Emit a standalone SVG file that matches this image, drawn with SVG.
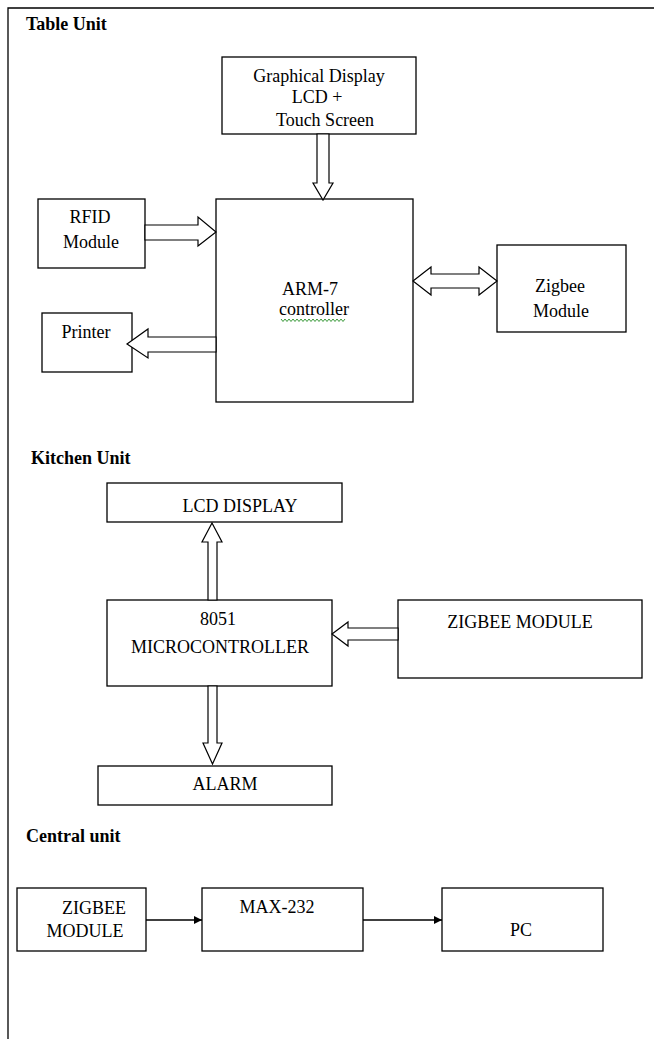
<svg xmlns="http://www.w3.org/2000/svg" width="654" height="1039" viewBox="0 0 654 1039">
<style>
.box{fill:#fff;stroke:#000;stroke-width:1.3}
.t{font-family:"Liberation Serif","Times New Roman",serif;font-size:18px;fill:#000;text-anchor:middle}
.h{font-family:"Liberation Serif","Times New Roman",serif;font-size:18px;font-weight:bold;fill:#000}
.ha{fill:#fff;stroke:#000;stroke-width:1.2;stroke-linejoin:miter}
.ln{stroke:#000;stroke-width:1.3;fill:none}
</style>
<defs>
<marker id="arr" viewBox="0 0 10 10" refX="10" refY="5" markerWidth="8" markerHeight="8" markerUnits="userSpaceOnUse" orient="auto">
<path d="M0,0 L10,5 L0,10 z" fill="#000"/>
</marker>
</defs>
<rect width="654" height="1039" fill="#fff"/>
<path d="M8,1039 V8 H654" class="ln" stroke-width="1.5"/>

<g id="titles">
<text class="h" x="26" y="30">Table Unit</text>
<text class="h" x="31" y="464">Kitchen Unit</text>
<text class="h" x="26" y="842">Central unit</text>
</g>

<g id="graphical-display">
<rect class="box" x="222" y="57" width="194" height="77"/>
<text class="t" x="319" y="82">Graphical Display</text>
<text class="t" x="317" y="103">LCD +</text>
<text class="t" x="325" y="126">Touch Screen</text>
</g>

<g id="arm7">
<rect class="box" x="216" y="199" width="197" height="203"/>
<text class="t" x="310" y="295">ARM-7</text>
<text class="t" x="314" y="315">controller</text>
<path d="M281,319 l2,2.5 l2,-2.5 l2,2.5 l2,-2.5 l2,2.5 l2,-2.5 l2,2.5 l2,-2.5 l2,2.5 l2,-2.5 l2,2.5 l2,-2.5 l2,2.5 l2,-2.5 l2,2.5 l2,-2.5 l2,2.5 l2,-2.5 l2,2.5 l2,-2.5 l2,2.5 l2,-2.5 l2,2.5 l2,-2.5 l2,2.5 l2,-2.5 l2,2.5 l2,-2.5 l2,2.5 l2,-2.5 l2,2.5 l2,-2.5" fill="none" stroke="#3a9a3a" stroke-width="1"/>
</g>

<g id="rfid">
<rect class="box" x="38" y="199" width="107" height="69"/>
<text class="t" x="90" y="223">RFID</text>
<text class="t" x="91" y="248">Module</text>
</g>

<g id="printer">
<rect class="box" x="42" y="313" width="90" height="59"/>
<text class="t" x="86" y="338">Printer</text>
</g>

<g id="zigbee-table">
<rect class="box" x="497" y="245" width="129" height="87"/>
<text class="t" x="560" y="292">Zigbee</text>
<text class="t" x="561" y="317">Module</text>
</g>

<g id="lcd-display">
<rect class="box" x="107" y="483" width="235" height="39"/>
<text class="t" x="240" y="512">LCD DISPLAY</text>
</g>

<g id="mcu8051">
<rect class="box" x="107" y="600" width="225" height="86"/>
<text class="t" x="218" y="625">8051</text>
<text class="t" x="220" y="653">MICROCONTROLLER</text>
</g>

<g id="zigbee-kitchen">
<rect class="box" x="398" y="600" width="244" height="78"/>
<text class="t" x="520" y="628">ZIGBEE MODULE</text>
</g>

<g id="alarm">
<rect class="box" x="98" y="766" width="234" height="39"/>
<text class="t" x="225" y="790">ALARM</text>
</g>

<g id="zigbee-central">
<rect class="box" x="17" y="888" width="129" height="63"/>
<text class="t" x="94" y="914">ZIGBEE</text>
<text class="t" x="85" y="937">MODULE</text>
</g>

<g id="max232">
<rect class="box" x="202" y="888" width="161" height="63"/>
<text class="t" x="277" y="913">MAX-232</text>
</g>

<g id="pc">
<rect class="box" x="442" y="888" width="161" height="63"/>
<text class="t" x="521" y="936">PC</text>
</g>

<g id="connectors">
<polygon class="ha" points="317,134 329,134 329,183 333,183 323,200 313,183 317,183"/>
<polygon class="ha" points="145,225 198,225 198,217 216,232 198,246 198,240 145,240"/>
<polygon class="ha" points="216,337 148,337 148,329 127,344 148,358 148,352 216,352"/>
<polygon class="ha" points="413,281 431,267 431,274 479,274 479,267 497,281 479,295 479,288 431,288 431,295"/>
<polygon class="ha" points="208,600 208,542 202,542 212,523 222,542 217,542 217,600"/>
<polygon class="ha" points="398,628 348,628 348,622 332,634 348,646 348,640 398,640"/>
<polygon class="ha" points="208,686 217,686 217,743 222,743 212.5,764 203,743 208,743"/>
<line class="ln" x1="146" y1="920" x2="202" y2="920" marker-end="url(#arr)"/>
<line class="ln" x1="363" y1="920" x2="442" y2="920" marker-end="url(#arr)"/>
</g>
</svg>
